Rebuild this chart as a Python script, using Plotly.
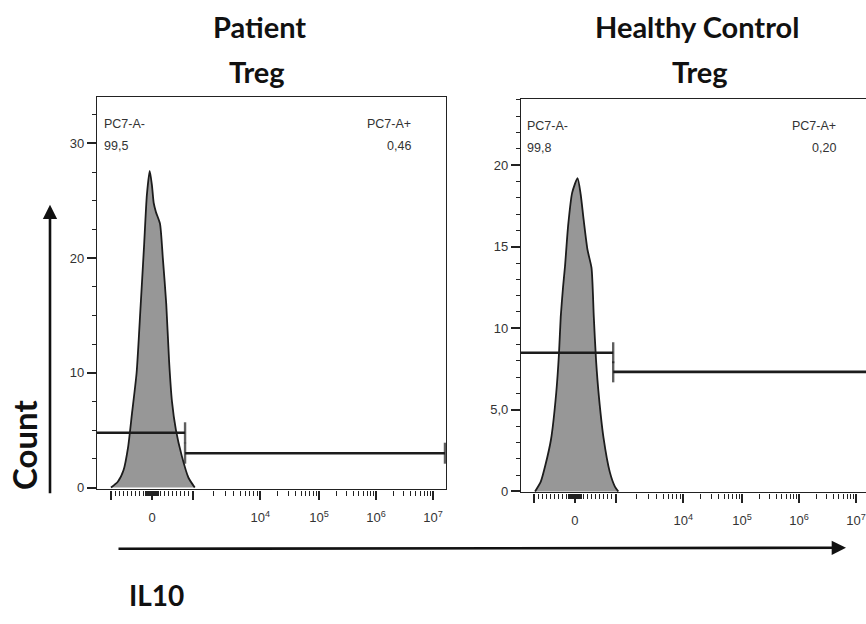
import plotly.graph_objects as go
import numpy as np

W, H = 866, 624

# ---------------- data (display units on x, event count on y) ----------------
patient_x = [-0.72, -0.60, -0.50, -0.42, -0.35, -0.27, -0.20, -0.14, -0.09, -0.04,
             0.00, 0.03, 0.07, 0.14, 0.19, 0.25, 0.30, 0.35, 0.42, 0.52, 0.64, 0.75]
patient_count = [0.0, 0.5, 1.5, 3.5, 6.5, 10.0, 15.8, 21.0, 25.5, 27.6,
                 26.3, 24.8, 24.0, 23.0, 20.0, 16.0, 11.0, 7.5, 5.0, 2.8, 0.85, 0.0]

healthy_x = [-0.70, -0.60, -0.52, -0.42, -0.33, -0.28, -0.25, -0.21, -0.175, -0.12,
             -0.05, 0.045, 0.10, 0.15, 0.22, 0.29, 0.33, 0.37, 0.42, 0.50, 0.61, 0.70, 0.76]
healthy_count = [0.0, 0.6, 1.6, 3.2, 6.0, 8.5, 10.7, 12.5, 13.8, 16.3,
                 18.3, 19.2, 18.2, 16.7, 14.8, 13.7, 10.7, 8.0, 5.8, 3.3, 1.2, 0.3, 0.0]

titles = ["Patient", "Healthy Control"]
subtitles = ["Treg", "Treg"]
neg_gate_name = ["PC7-A-", "PC7-A-"]
pos_gate_name = ["PC7-A+", "PC7-A+"]
neg_pct = ["99,5", "99,8"]
pos_pct = ["0,46", "0,20"]
gate_boundary = [0.58, 0.67]
gate_right_end = [5.14, 5.30]
neg_gate_level = [4.77, 8.5]
pos_gate_level = [2.99, 7.33]

# x axis: display positions of -10^3, 0, 10^3, 10^4 ... 10^7
decade_pos = [-0.72, 0.0, 0.72, 1.90, 2.93, 3.93, 4.93]
decade_text = ["", "0", "", "10<sup>4</sup>", "10<sup>5</sup>", "10<sup>6</sup>", "10<sup>7</sup>"]

y_ticks = [[0, 10, 20, 30], [0, 5, 10, 15, 20]]
y_text = [["0", "10", "20", "30"], ["0", "5,0", "10", "15", "20"]]
y_minor_step = [2.5, 1.0]

x_ranges = [[-0.965, 5.158], [-0.947, 5.105]]
y_ranges = [[-0.17, 34.05], [-0.06, 24.06]]

# panel boxes in pixels (left, right, top, bottom)
panels = [(97, 446, 98, 495), (521, 866, 100, 498)]


def px(x):
    return x / W


def py(y):
    return 1 - y / H


# minor x ticks: linear region near zero and log decades
lin_minor = [v * 0.72 / 1000 for v in range(-1000, 1001, 100)]
zero_cluster = [v * 0.72 / 1000 for v in range(-150, 151, 25)]
log_minor = []
for i in range(2, 6):
    a, b = decade_pos[i], decade_pos[i + 1]
    for k in range(2, 10):
        log_minor.append(a + np.log10(k) * (b - a))
x_minor = sorted(set(round(v, 5) for v in lin_minor + zero_cluster + log_minor) - set(decade_pos))

fig = go.Figure()

hist = [(patient_x, patient_count), (healthy_x, healthy_count)]
line_col = "#1c1c1c"
tick_font = dict(family="Liberation Sans Narrow, Arial Narrow, Liberation Sans, Arial", size=13, color="#333333")
label_font = dict(family="Liberation Sans, Arial", size=12.5, color="#333333")
bold_font = "Lato, Calibri, Open Sans, sans-serif"

for p in range(2):
    xa = "x" if p == 0 else "x2"
    ya = "y" if p == 0 else "y2"
    hx, hy = hist[p]
    fig.add_trace(go.Scatter(
        x=hx, y=hy, xaxis=xa, yaxis=ya, mode="lines",
        line=dict(color=line_col, width=1.8, shape="spline", smoothing=0.6),
        fill="tozeroy", fillcolor="#979797", hoverinfo="skip", showlegend=False))
    fig.add_trace(go.Scatter(
        x=[x_ranges[p][0], gate_boundary[p]], y=[neg_gate_level[p]] * 2,
        xaxis=xa, yaxis=ya, mode="lines+markers",
        line=dict(color=line_col, width=2.6),
        marker=dict(symbol="line-ns", size=[0, 15], line=dict(width=2.4, color=line_col)),
        hoverinfo="skip", showlegend=False))
    fig.add_trace(go.Scatter(
        x=[gate_boundary[p], gate_right_end[p]], y=[pos_gate_level[p]] * 2,
        xaxis=xa, yaxis=ya, mode="lines+markers",
        line=dict(color=line_col, width=2.6),
        marker=dict(symbol="line-ns", size=[15, 15], line=dict(width=2.4, color=line_col)),
        hoverinfo="skip", showlegend=False))

for p in range(2):
    l, r, t, b = panels[p]
    xkey = "xaxis" if p == 0 else "xaxis2"
    ykey = "yaxis" if p == 0 else "yaxis2"
    fig.layout[xkey] = dict(
        showgrid=False, zeroline=False, showline=True, linecolor="#222222", linewidth=1.3,
        ticks="outside", tickcolor="#222222", tickwidth=1.6, ticklen=9,
        domain=[px(l), px(r)], range=x_ranges[p], anchor="y" if p == 0 else "y2",
        tickmode="array", tickvals=decade_pos, ticktext=decade_text,
        tickfont=dict(tick_font, size=13), ticklabelstandoff=7,
        mirror=True, fixedrange=True,
        minor=dict(tickmode="array", tickvals=x_minor, ticklen=5, ticks="outside",
                   tickcolor="#222222", tickwidth=1.1))
    fig.layout[ykey] = dict(
        showgrid=False, zeroline=False, showline=True, linecolor="#222222", linewidth=1.3,
        ticks="outside", tickcolor="#222222", tickwidth=1.6, ticklen=9,
        domain=[py(b), py(t)], range=y_ranges[p], anchor="x" if p == 0 else "x2",
        tickmode="array", tickvals=y_ticks[p], ticktext=y_text[p],
        tickfont=tick_font, mirror=(p == 0), fixedrange=True,
        minor=dict(dtick=y_minor_step[p], tick0=0, ticklen=4, ticks="outside",
                   tickcolor="#222222", tickwidth=1.1))

# ---------------- text ----------------
title_centers = [(259, 27, 257, 72), (697, 27, 700, 72)]
for p in range(2):
    cx, cy, sx, sy = title_centers[p]
    fig.add_annotation(x=px(cx), y=py(cy), xref="paper", yref="paper", showarrow=False,
                       text="<b>%s</b>" % titles[p], xanchor="center", yanchor="middle",
                       font=dict(family=bold_font, size=29, color="#111111"))
    fig.add_annotation(x=px(sx), y=py(sy), xref="paper", yref="paper", showarrow=False,
                       text="<b>%s</b>" % subtitles[p], xanchor="center", yanchor="middle",
                       font=dict(family=bold_font, size=29, color="#111111"))

gate_text_pos = [(102, 413, 125, 148), (525, 838, 127, 150)]
for p in range(2):
    lx, rx, y1, y2 = gate_text_pos[p]
    fig.add_annotation(x=px(lx), y=py(y1), xref="paper", yref="paper", showarrow=False,
                       text=neg_gate_name[p], xanchor="left", yanchor="middle", font=label_font)
    fig.add_annotation(x=px(lx), y=py(y2), xref="paper", yref="paper", showarrow=False,
                       text=neg_pct[p], xanchor="left", yanchor="middle", font=label_font)
    fig.add_annotation(x=px(rx), y=py(y1), xref="paper", yref="paper", showarrow=False,
                       text=pos_gate_name[p], xanchor="right", yanchor="middle", font=label_font)
    fig.add_annotation(x=px(rx), y=py(y2), xref="paper", yref="paper", showarrow=False,
                       text=pos_pct[p], xanchor="right", yanchor="middle", font=label_font)

fig.add_annotation(x=px(24), y=py(450), xref="paper", yref="paper", showarrow=False,
                   text="<b>Count</b>", textangle=-90, xanchor="center", yanchor="middle",
                   font=dict(family=bold_font, size=33, color="#111111"))
fig.add_annotation(x=px(156), y=py(602), xref="paper", yref="paper", showarrow=False,
                   text="<b>IL10</b>", xanchor="center", yanchor="middle",
                   font=dict(family=bold_font, size=28, color="#111111"))

fig.add_annotation(x=px(50), y=py(207), xref="paper", yref="paper", ax=0, ay=290,
                   showarrow=True, arrowhead=2, arrowsize=1.1, arrowwidth=2.6,
                   arrowcolor="#111111", text="")
fig.add_annotation(x=px(846), y=py(554), xref="paper", yref="paper", ax=-729, ay=1,
                   showarrow=True, arrowhead=2, arrowsize=1.1, arrowwidth=2.6,
                   arrowcolor="#111111", text="")

fig.update_layout(width=W, height=H, autosize=False,
                  margin=dict(l=0, r=0, t=0, b=0, pad=0),
                  paper_bgcolor="white", plot_bgcolor="white", showlegend=False)

fig.write_html("out.html")
